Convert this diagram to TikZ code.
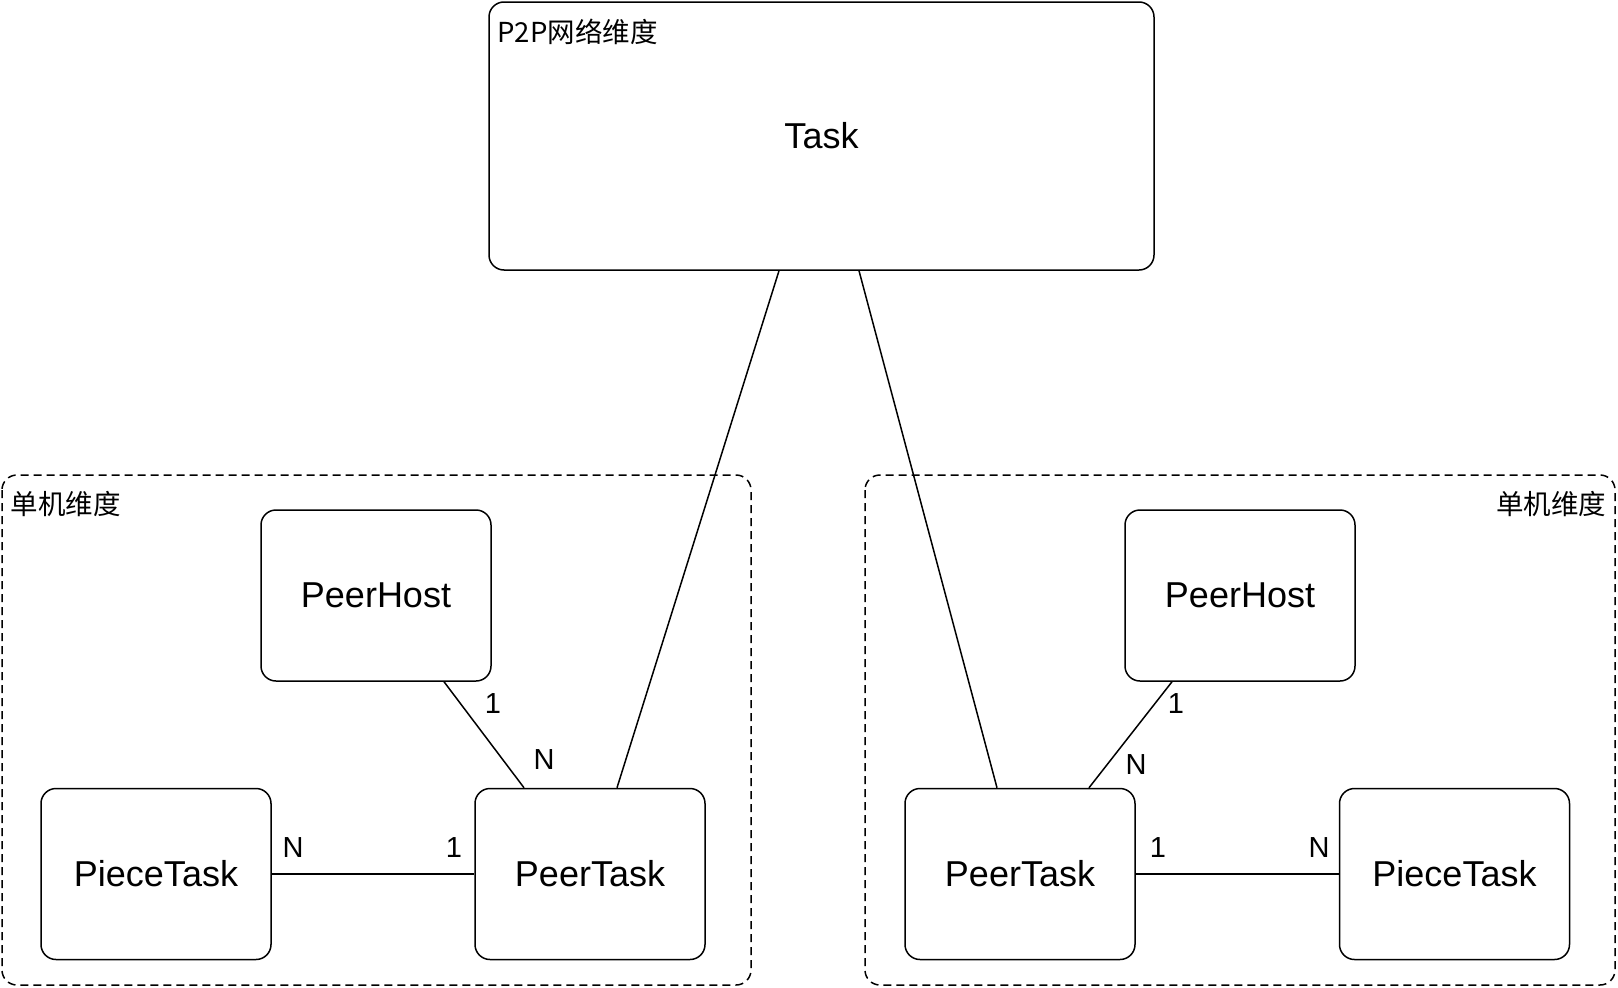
\documentclass[tikz,border=0pt]{standalone}
\usepackage{fontspec}
\setmainfont{Liberation Sans}
\newfontfamily\cjk{Noto Sans CJK SC}
\usepackage{tikz}

\begin{document}
\begin{tikzpicture}[
    x=1pt, y=-1pt,
    ent/.style={draw, line width=1.5pt, rounded corners=15pt, minimum width=230pt,
                minimum height=171pt, align=center, font=\fontsize{36}{40}\selectfont},
    group/.style={draw, line width=1.5pt, dash pattern=on 8pt off 5pt,
                  rounded corners=15pt},
    link/.style={line width=1.5pt},
    card/.style={font=\fontsize{29}{32}\selectfont},
    grouplabel/.style={font=\cjk\fontsize{27.5}{32}\selectfont}
]
\useasboundingbox (0,0) rectangle (1618,988);

% --- P2P (top) ---
\node[ent, minimum width=665pt, minimum height=268pt] (task) at (821.5,136) {Task};
\node[grouplabel, anchor=west] (p2plabel) at (494,32) {P2P网络维度};

% --- left host group ---
\draw[group] (2,475) rectangle (751,985);
\node[grouplabel, anchor=west] (lgroup) at (7,504) {单机维度};

\node[ent] (lhost) at (376,595.5) {PeerHost};
\node[ent] (lpiece) at (156,874) {PieceTask};
\node[ent] (lpeer) at (590,874) {PeerTask};

\draw[link] ([xshift=68pt]lhost.south) -- ([xshift=-66pt]lpeer.north);
\draw[link] (lpiece.east) -- (lpeer.west);

\node[card] (lc1) at (493,704) {1};
\node[card] (lc2) at (544,760) {N};
\node[card] (lc3) at (293,848) {N};
\node[card] (lc4) at (454,848) {1};

% --- right host group ---
\draw[group] (865,475) rectangle (1615,985);
\node[grouplabel, anchor=east] (rgroup) at (1610,504) {单机维度};

\node[ent] (rhost) at (1240,595.5) {PeerHost};
\node[ent] (rpeer) at (1020,874) {PeerTask};
\node[ent] (rpiece) at (1454.5,874) {PieceTask};

\draw[link] ([xshift=-68pt]rhost.south) -- ([xshift=69pt]rpeer.north);
\draw[link] (rpeer.east) -- (rpiece.west);

\node[card] (rc1) at (1176,704) {1};
\node[card] (rc2) at (1136,765) {N};
\node[card] (rc3) at (1158,848) {1};
\node[card] (rc4) at (1319,848) {N};

% Task to both peers
\draw[link] ([xshift=-42.5pt]task.south) -- ([xshift=27pt]lpeer.north);
\draw[link] ([xshift=37.5pt]task.south) -- ([xshift=-23pt]rpeer.north);

\end{tikzpicture}
\end{document}
